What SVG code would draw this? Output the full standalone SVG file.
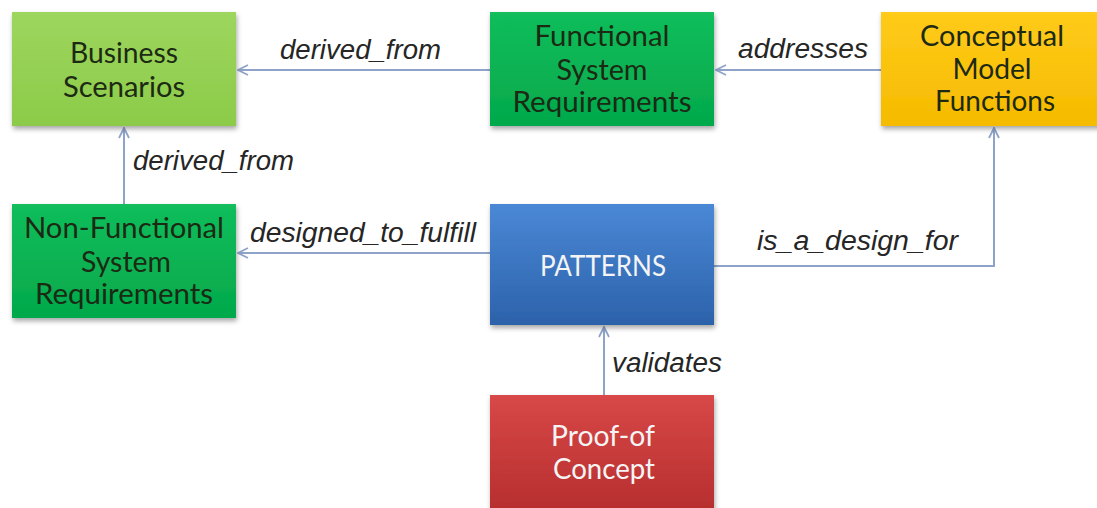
<svg xmlns="http://www.w3.org/2000/svg" width="1097" height="508" viewBox="0 0 1097 508">
<style>
.node-text{font-family:Lato,"Open Sans","Liberation Sans",sans-serif;font-size:29px;fill:#1c2a14;text-anchor:middle}
.white{fill:#f4f4f4}
.small{font-size:28px}
.lbl{font-family:"Liberation Sans",Arial,sans-serif;font-style:italic;font-size:27px;fill:#262626}
.conn{fill:none;stroke:#8fa3c9;stroke-width:2}
</style>
<defs>
<filter id="sh" x="-10%" y="-10%" width="125%" height="130%">
<feDropShadow dx="1" dy="3" stdDeviation="2.5" flood-color="#000" flood-opacity="0.35"/>
</filter>
<linearGradient id="gLight" x1="0" y1="0" x2="0" y2="1"><stop offset="0" stop-color="#9dd65e"/><stop offset="1" stop-color="#8ccb49"/></linearGradient>
<linearGradient id="gGreen" x1="0" y1="0" x2="0" y2="1"><stop offset="0" stop-color="#12bd5b"/><stop offset="1" stop-color="#03a94b"/></linearGradient>
<linearGradient id="gGold" x1="0" y1="0" x2="0" y2="1"><stop offset="0" stop-color="#ffcb1a"/><stop offset="1" stop-color="#f5bb00"/></linearGradient>
<linearGradient id="gBlue" x1="0" y1="0" x2="0" y2="1"><stop offset="0" stop-color="#4a88d6"/><stop offset="1" stop-color="#2c62aa"/></linearGradient>
<linearGradient id="gRed" x1="0" y1="0" x2="0" y2="1"><stop offset="0" stop-color="#d84848"/><stop offset="1" stop-color="#b42c2c"/></linearGradient>
<marker id="arr" viewBox="0 0 12 12" refX="11" refY="6" markerWidth="12" markerHeight="12" markerUnits="userSpaceOnUse" orient="auto">
<path d="M1,1 L11,6 L1,11" fill="none" stroke="#8fa3c9" stroke-width="1.8"/>
</marker>
</defs>
<rect width="1097" height="508" fill="#ffffff"/>

<g id="connectors">
<path class="conn" d="M490,70 L238,70" marker-end="url(#arr)"/>
<path class="conn" d="M881,70 L716,70" marker-end="url(#arr)"/>
<path class="conn" d="M124,204 L124,128" marker-end="url(#arr)"/>
<path class="conn" d="M490,253 L238,253" marker-end="url(#arr)"/>
<path class="conn" d="M714,266 L994,266 L994,128" marker-end="url(#arr)"/>
<path class="conn" d="M604,395 L604,327" marker-end="url(#arr)"/>
<text class="lbl" x="280" y="59" textLength="161" lengthAdjust="spacingAndGlyphs">derived_from</text>
<text class="lbl" x="738" y="58" textLength="130" lengthAdjust="spacingAndGlyphs">addresses</text>
<text class="lbl" x="133" y="170" textLength="161" lengthAdjust="spacingAndGlyphs">derived_from</text>
<text class="lbl" x="250" y="242" textLength="226" lengthAdjust="spacingAndGlyphs">designed_to_fulfill</text>
<text class="lbl" x="757" y="250" textLength="201" lengthAdjust="spacingAndGlyphs">is_a_design_for</text>
<text class="lbl" x="612" y="372" textLength="110" lengthAdjust="spacingAndGlyphs">validates</text>
</g>

<g id="business-scenarios">
<rect x="12" y="12" width="224" height="114" fill="url(#gLight)" filter="url(#sh)"/>
<text class="node-text" x="124" y="63" textLength="108" lengthAdjust="spacingAndGlyphs">Business</text>
<text class="node-text" x="124" y="97" textLength="122" lengthAdjust="spacingAndGlyphs">Scenarios</text>
</g>

<g id="functional-system-requirements">
<rect x="490" y="12" width="224" height="114" fill="url(#gGreen)" filter="url(#sh)"/>
<text class="node-text" x="602" y="46" textLength="135" lengthAdjust="spacingAndGlyphs">Functional</text>
<text class="node-text" x="602" y="80" textLength="91" lengthAdjust="spacingAndGlyphs">System</text>
<text class="node-text" x="602" y="112" textLength="179" lengthAdjust="spacingAndGlyphs">Requirements</text>
</g>

<g id="conceptual-model-functions">
<rect x="881" y="12" width="224" height="114" fill="url(#gGold)" filter="url(#sh)"/>
<text class="node-text" x="992" y="46" textLength="144" lengthAdjust="spacingAndGlyphs">Conceptual</text>
<text class="node-text" x="992" y="79" textLength="79" lengthAdjust="spacingAndGlyphs">Model</text>
<text class="node-text" x="995" y="111" textLength="120" lengthAdjust="spacingAndGlyphs">Functions</text>
</g>

<g id="non-functional-system-requirements">
<rect x="12" y="204" width="224" height="114" fill="url(#gGreen)" filter="url(#sh)"/>
<text class="node-text" x="124" y="238" textLength="200" lengthAdjust="spacingAndGlyphs">Non-Functional</text>
<text class="node-text" x="126" y="272" textLength="90" lengthAdjust="spacingAndGlyphs">System</text>
<text class="node-text" x="124" y="304" textLength="178" lengthAdjust="spacingAndGlyphs">Requirements</text>
</g>

<g id="patterns">
<rect x="490" y="204" width="224" height="121" fill="url(#gBlue)" filter="url(#sh)"/>
<text class="node-text white" x="603" y="276" textLength="126" lengthAdjust="spacingAndGlyphs">PATTERNS</text>
</g>

<g id="proof-of-concept">
<rect x="490" y="395" width="224" height="125" fill="url(#gRed)" filter="url(#sh)"/>
<text class="node-text white small" x="603" y="446" textLength="104" lengthAdjust="spacingAndGlyphs">Proof-of</text>
<text class="node-text white small" x="604" y="479" textLength="102" lengthAdjust="spacingAndGlyphs">Concept</text>
</g>
</svg>
